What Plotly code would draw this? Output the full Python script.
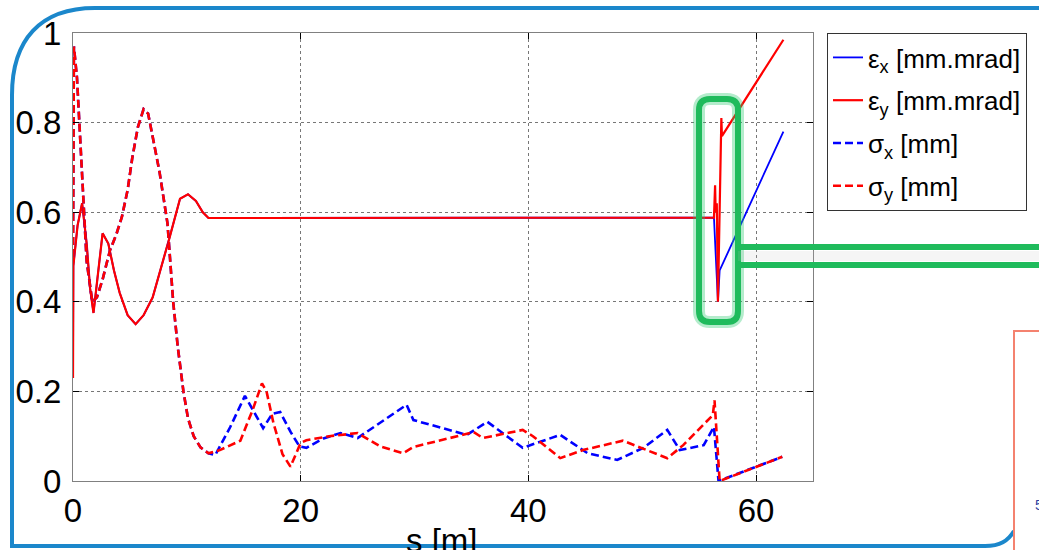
import plotly.graph_objects as go

# ---------------- data ----------------
s_eps_x = [0, 0.03, 0.4, 0.8, 1.2, 1.5, 1.8, 2.1, 2.6, 3.1, 3.6, 4.1, 4.8, 5.5, 6.2, 7.0, 7.8, 8.5,
           9.4, 10.1, 10.8, 11.4, 11.9, 20, 30, 40, 50, 56.3, 56.65, 56.8, 62.4]
eps_x = [0.23, 0.48, 0.57, 0.62, 0.53, 0.43, 0.375, 0.44, 0.553, 0.53, 0.47, 0.42, 0.37, 0.35, 0.37,
         0.41, 0.48, 0.545, 0.63, 0.64, 0.625, 0.60, 0.587, 0.587, 0.587, 0.587, 0.587, 0.588,
         0.40, 0.47, 0.78]

s_eps_y = [0, 0.03, 0.4, 0.8, 1.2, 1.5, 1.8, 2.1, 2.6, 3.1, 3.6, 4.1, 4.8, 5.5, 6.2, 7.0, 7.8, 8.5,
           9.4, 10.1, 10.8, 11.4, 11.9, 20, 30, 40, 50, 56.3, 56.4, 56.45, 56.55, 56.65, 56.95,
           57.0, 62.4]
eps_y = [0.23, 0.48, 0.57, 0.62, 0.53, 0.43, 0.375, 0.44, 0.553, 0.53, 0.47, 0.42, 0.37, 0.35, 0.37,
         0.41, 0.48, 0.545, 0.63, 0.64, 0.625, 0.60, 0.587, 0.587, 0.587, 0.587, 0.587, 0.588,
         0.66, 0.60, 0.62, 0.40, 0.81, 0.77, 0.985]

s_sig_x = [0, 0.08, 0.35, 0.6, 0.85, 1.2, 1.7, 2.1, 2.6, 3.25, 3.8, 4.3, 4.8, 5.2, 5.7, 6.2, 6.6,
           7.0, 7.6, 8.3, 8.8, 9.2, 9.7, 10.1, 10.6, 11.2, 11.9, 12.5, 13.8, 15.1, 16.0, 16.7,
           17.5, 18.2, 19.1, 19.9, 20.5, 22.0, 23.5, 25.0, 29.3, 29.9, 34.6, 36.4, 39.5, 42.8,
           45.2, 47.8, 50.1, 52.2, 53.3, 55.4, 56.3, 56.7, 62.3]
sig_x = [0.50, 0.97, 0.90, 0.78, 0.64, 0.49, 0.40, 0.41, 0.45, 0.515, 0.55, 0.59, 0.65, 0.72, 0.79,
         0.83, 0.82, 0.77, 0.69, 0.575, 0.40, 0.30, 0.20, 0.14, 0.10, 0.075, 0.062, 0.058, 0.12,
         0.19, 0.15, 0.118, 0.15, 0.154, 0.11, 0.077, 0.074, 0.095, 0.107, 0.096, 0.17, 0.136,
         0.103, 0.132, 0.074, 0.103, 0.062, 0.047, 0.074, 0.114, 0.069, 0.080, 0.121, 0.0, 0.054]

s_sig_y = [0, 0.08, 0.35, 0.6, 0.85, 1.2, 1.7, 2.1, 2.6, 3.25, 3.8, 4.3, 4.8, 5.2, 5.7, 6.2, 6.6,
           7.0, 7.6, 8.3, 8.8, 9.2, 9.7, 10.1, 10.6, 11.2, 11.9, 12.9, 14.7, 15.8, 16.6, 17.0,
           17.6, 18.4, 19.1, 20.0, 20.5, 22.5, 25.0, 27.0, 29.0, 29.9, 35.2, 36.0, 39.5, 40.4,
           42.8, 44.8, 48.3, 50.3, 52.2, 53.6, 56.2, 56.35, 56.8, 62.3]
sig_y = [0.50, 0.97, 0.90, 0.78, 0.64, 0.49, 0.40, 0.41, 0.45, 0.515, 0.55, 0.59, 0.65, 0.72, 0.79,
         0.83, 0.82, 0.77, 0.69, 0.575, 0.40, 0.30, 0.20, 0.14, 0.10, 0.075, 0.062, 0.069, 0.09,
         0.16, 0.218, 0.20, 0.13, 0.06, 0.032, 0.085, 0.091, 0.10, 0.107, 0.077, 0.062, 0.076,
         0.109, 0.096, 0.114, 0.10, 0.051, 0.069, 0.090, 0.07, 0.051, 0.08, 0.147, 0.18, 0.0, 0.054]

x_ticks = [0, 20, 40, 60]
x_tick_text = ["0", "20", "40", "60"]
y_ticks = [0, 0.2, 0.4, 0.6, 0.8, 1.0]
y_tick_text = ["0", "0.2", "0.4", "0.6", "0.8", "1"]

names = ["ε<sub>x</sub> [mm.mrad]", "ε<sub>y</sub> [mm.mrad]", "σ<sub>x</sub> [mm]", "σ<sub>y</sub> [mm]"]

# ---------------- figure ----------------
W, H = 1039, 550
L, R, T, B = 73, 813, 33, 481
FONT = "Liberation Sans, Arial, Helvetica, sans-serif"
BLUE, RED = "#0000ff", "#ff0000"
DASH = "8px,4px"


def px(xp):
    return (xp - L) / (R - L)


def py(yp):
    return (B - yp) / (B - T)


fig = go.Figure()
fig.add_trace(go.Scatter(x=s_eps_x, y=eps_x, mode="lines", name=names[0], legendgroup="a",
                         line=dict(color=BLUE, width=1.8)))
fig.add_trace(go.Scatter(x=s_eps_y, y=eps_y, mode="lines", name=names[1], legendgroup="b",
                         line=dict(color=RED, width=2.2)))
fig.add_trace(go.Scatter(x=s_sig_x, y=sig_x, mode="lines", name=names[2], legendgroup="c",
                         line=dict(color=BLUE, width=2.6, dash=DASH)))
fig.add_trace(go.Scatter(x=s_sig_y, y=sig_y, mode="lines", name=names[3], legendgroup="d",
                         line=dict(color=RED, width=2.6, dash=DASH)))

axis_common = dict(
    ticks="inside", ticklen=6, tickcolor="#000", showline=True, linecolor="#808080",
    linewidth=1, mirror="ticks", showgrid=True, gridcolor="#777", griddash="dot", gridwidth=1,
    zeroline=False, tickfont=dict(family=FONT, size=33, color="#000"),
)
fig.update_xaxes(range=[0, 65], tickvals=x_ticks, ticktext=x_tick_text, **axis_common)
fig.update_yaxes(range=[0, 1], tickvals=y_ticks, ticktext=y_tick_text, ticklabelstandoff=4,
                 **axis_common)

shapes = []
# blue rounded slide border
shapes.append(dict(type="path", xref="paper", yref="paper", layer="above",
                   path=(f"M {px(1045)},{py(8)} L {px(95)},{py(8)} "
                         f"C {px(40)},{py(8)} {px(12)},{py(40)} {px(12)},{py(95)} "
                         f"L {px(12)},{py(546)} L {px(985)},{py(546)} "
                         f"C {px(1000)},{py(546)} {px(1008)},{py(541)} {px(1014)},{py(531)}"),
                   line=dict(color="#1b87cb", width=4)))
# red-bordered box bottom right
shapes.append(dict(type="rect", xref="paper", yref="paper", layer="above",
                   x0=px(1014), x1=px(1050), y0=py(331), y1=py(560),
                   line=dict(color="#f4826f", width=2), fillcolor="white"))
# green highlight glow + box
box_path = (f"M {px(710)},{py(99)} L {px(727)},{py(99)} Q {px(738)},{py(99)} {px(738)},{py(110)} "
            f"L {px(738)},{py(311)} Q {px(738)},{py(322)} {px(727)},{py(322)} "
            f"L {px(710)},{py(322)} Q {px(699)},{py(322)} {px(699)},{py(311)} "
            f"L {px(699)},{py(110)} Q {px(699)},{py(99)} {px(710)},{py(99)} Z")
shapes.append(dict(type="path", xref="paper", yref="paper", layer="above", path=box_path,
                   line=dict(color="rgba(40,200,110,0.35)", width=12)))
shapes.append(dict(type="path", xref="paper", yref="paper", layer="above", path=box_path,
                   line=dict(color="#1fbb5c", width=6)))
# green double connector line with soft shadow
shapes.append(dict(type="rect", xref="paper", yref="paper", layer="above",
                   x0=px(738), x1=px(1045), y0=py(251), y1=py(261),
                   line=dict(width=0), fillcolor="rgba(190,190,190,0.15)"))
for yl in (247, 265):
    shapes.append(dict(type="line", xref="paper", yref="paper", layer="above",
                       x0=px(738), x1=px(1045), y0=py(yl), y1=py(yl),
                       line=dict(color="#1fbb5c", width=6)))

annotations = [
    dict(text="s [m]", xref="paper", yref="paper", x=px(442), y=py(540), showarrow=False,
         xanchor="center", yanchor="middle", font=dict(family=FONT, size=33, color="#000")),
    dict(text="5", xref="paper", yref="paper", x=px(1033), y=py(505), showarrow=False,
         xanchor="left", yanchor="middle", font=dict(family=FONT, size=14, color="#2b3fa0")),
]

fig.update_layout(
    width=W, height=H,
    margin=dict(l=L, r=W - R, t=T, b=H - B, pad=0, autoexpand=False),
    plot_bgcolor="white", paper_bgcolor="white",
    shapes=shapes, annotations=annotations,
    legend=dict(x=px(827), y=1, xanchor="left", yanchor="top", bgcolor="white",
                bordercolor="#333", borderwidth=1, tracegroupgap=6,
                font=dict(family=FONT, size=26, color="#000")),
    showlegend=True,
)

fig.write_html("out.html", config={"displayModeBar": False},
               post_script="document.body.style.margin='0';")
